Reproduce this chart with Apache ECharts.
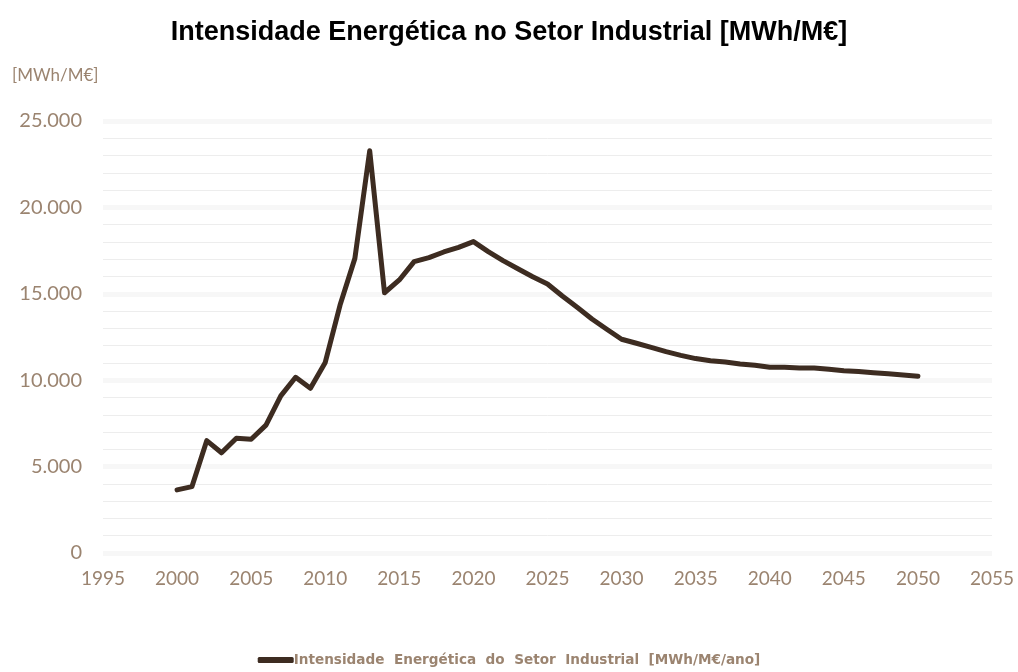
<!DOCTYPE html>
<html>
<head>
<meta charset="utf-8">
<script src="https://cdn.jsdelivr.net/npm/echarts@6/dist/echarts.min.js"></script>
<style>
  html, body { margin: 0; padding: 0; background: #fff; }
  #main { width: 1018px; height: 672px; }
</style>
</head>
<body>
<div id="main"></div>
<script>
// dados
var anos = [2000, 2001, 2002, 2003, 2004, 2005, 2006, 2007, 2008, 2009,
            2010, 2011, 2012, 2013, 2014, 2015, 2016, 2017, 2018, 2019,
            2020, 2021, 2022, 2023, 2024, 2025, 2026, 2027, 2028, 2029,
            2030, 2031, 2032, 2033, 2034, 2035, 2036, 2037, 2038, 2039,
            2040, 2041, 2042, 2043, 2044, 2045, 2046, 2047, 2048, 2049, 2050];
var intensidade = [3650, 3840, 6500, 5800, 6640, 6580, 7400, 9090, 10170, 9530,
                   11030, 14350, 17050, 23280, 15060, 15800, 16860, 17090, 17420, 17690,
                   18020, 17440, 16920, 16450, 15990, 15570, 14870, 14220, 13540, 12950,
                   12370, 12140, 11900, 11650, 11440, 11250, 11130, 11050, 10940, 10860,
                   10750, 10750, 10710, 10710, 10630, 10550, 10500, 10430, 10370, 10300, 10230];
var nomeSerie = 'Intensidade  Energética  do  Setor  Industrial  [MWh/M€/ano]';

var corTexto = '#9b8470';
var corLinha = '#3d2c21';

var myChart = echarts.init(document.getElementById('main'));

// pares [ano, valor]
var pontos = anos.map(function (a, i) { return [a, intensidade[i]]; });

var option = {
    backgroundColor: '#fff',
    title: [{
        text: 'Intensidade Energética no Setor Industrial [MWh/M€]',
        left: 'center',
        top: 14,
        textStyle: {
            fontFamily: 'Liberation Sans',
            fontWeight: 'bold',
            fontSize: 27,
            color: '#000'
        }
    }, {
        text: '[MWh/M€]',
        left: 7,
        top: 62,
        textStyle: {
            fontFamily: 'Lato',
            fontWeight: 'normal',
            fontSize: 17,
            color: corTexto
        }
    }],
    legend: {
        bottom: 0,
        left: 'center',
        icon: 'roundRect',
        itemWidth: 36,
        itemHeight: 6,
        itemGap: 0,
        textStyle: {
            fontFamily: 'DejaVu Sans',
            fontWeight: 'bold',
            fontSize: 13.6,
            color: corTexto,
            padding: [0, 0, 0, -5]
        },
        data: [nomeSerie]
    },
    grid: {
        left: 103,
        right: 26,
        top: 121,
        bottom: 119
    },
    xAxis: {
        type: 'value',
        min: 1995,
        max: 2055,
        interval: 5,
        axisLine: { show: false },
        axisTick: { show: false },
        splitLine: { show: false },
        axisLabel: {
            margin: 16,
            fontFamily: 'Lato',
            fontSize: 19,
            color: corTexto,
            formatter: function (v) { return String(v); }
        }
    },
    yAxis: {
        type: 'value',
        min: 0,
        max: 25000,
        interval: 5000,
        axisLine: { show: false },
        axisTick: { show: false },
        minorTick: { show: false, splitNumber: 5 },
        splitLine: { lineStyle: { color: '#f7f7f7', width: 5 } },
        minorSplitLine: { show: true, lineStyle: { color: '#ededed', width: 1 } },
        axisLabel: {
            margin: 21,
            fontFamily: 'Lato',
            fontSize: 20,
            color: corTexto,
            formatter: function (v) {
                return String(v).replace(/\B(?=(\d{3})+(?!\d))/g, '.');
            }
        }
    },
    series: [{
        name: nomeSerie,
        type: 'line',
        data: pontos,
        showSymbol: false,
        symbol: 'none',
        color: corLinha,
        lineStyle: { color: corLinha, width: 5, cap: 'round', join: 'round' }
    }]
};

myChart.setOption(option);
</script>
</body>
</html>
